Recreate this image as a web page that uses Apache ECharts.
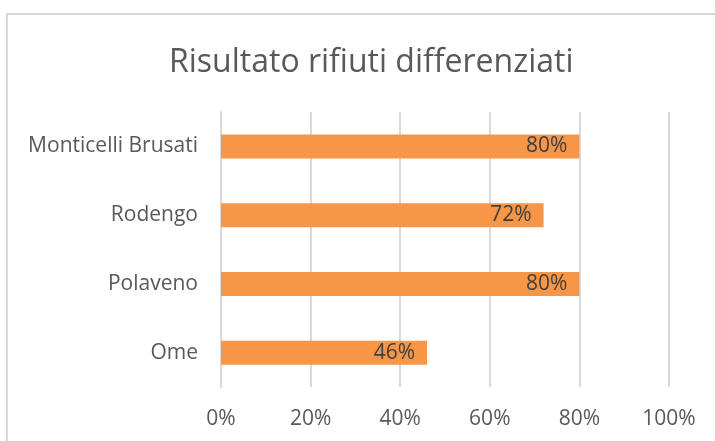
<!DOCTYPE html>
<html>
<head>
<meta charset="utf-8">
<script src="https://cdn.jsdelivr.net/npm/echarts@6/dist/echarts.min.js"></script>
<style>
  html, body { margin: 0; padding: 0; background: #fff; }
  #chart { width: 715px; height: 441px; }
</style>
</head>
<body>
<div id="chart"></div>
<script>
// categories listed bottom to top (as the category axis draws them)
var comuni = ['Ome', 'Polaveno', 'Rodengo', 'Monticelli Brusati'];
var percentuali = [0.46, 0.80, 0.72, 0.80];
var xTicks = [0, 0.2, 0.4, 0.6, 0.8, 1.0];

var font = '"Open Sans", sans-serif';
var grigio = '#595959';

var myChart = echarts.init(document.getElementById('chart'));

var option = {
  backgroundColor: '#fff',
  animation: false,
  title: {
    text: 'Risultato rifiuti differenziati',
    left: 164,
    top: 42,
    textStyle: {
      fontFamily: font,
      fontSize: 32,
      fontWeight: 'normal',
      color: grigio
    }
  },
  // chart border like the office chart frame
  graphic: [{
    type: 'rect',
    shape: { x: 7, y: 14, width: 720, height: 440 },
    style: { fill: 'none', stroke: '#d9d9d9', lineWidth: 2 },
    silent: true
  }],
  grid: {
    left: 221,
    right: 46,
    top: 112,
    bottom: 54
  },
  xAxis: {
    type: 'value',
    min: xTicks[0],
    max: xTicks[xTicks.length - 1],
    interval: 0.2,
    axisLine: { show: false },
    axisTick: { show: false },
    axisLabel: {
      margin: 22,
      fontFamily: font,
      fontSize: 21,
      color: grigio,
      formatter: function (v) { return Math.round(v * 100) + '%'; }
    },
    splitLine: { lineStyle: { color: '#d9d9d9', width: 2 } }
  },
  yAxis: {
    type: 'category',
    data: comuni,
    axisLine: { show: true, lineStyle: { color: '#d9d9d9', width: 2 } },
    axisTick: { show: false },
    axisLabel: {
      margin: 23,
      fontFamily: font,
      fontSize: 21,
      color: grigio
    }
  },
  series: [{
    type: 'bar',
    data: percentuali,
    barWidth: 24,
    itemStyle: { color: '#F79646' },
    label: {
      show: true,
      position: 'insideRight',
      distance: 12,
      fontFamily: font,
      fontSize: 21,
      color: '#404040',
      formatter: function (p) { return Math.round(p.value * 100) + '%'; }
    }
  }]
};

myChart.setOption(option);
</script>
</body>
</html>
